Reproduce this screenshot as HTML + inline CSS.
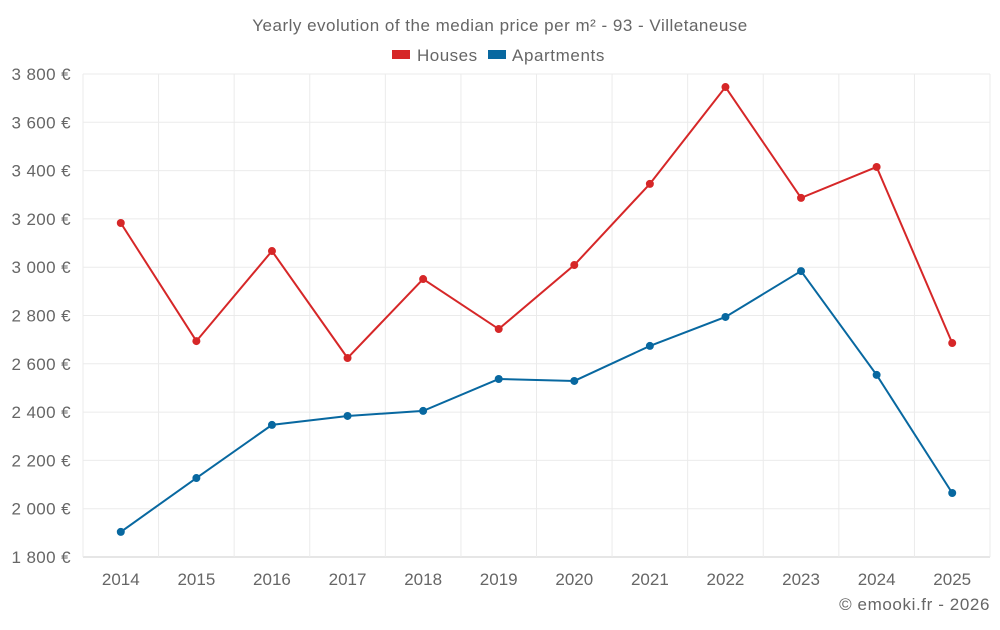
<!DOCTYPE html>
<html><head><meta charset="utf-8"><style>
body{margin:0;background:#fff;font-family:"Liberation Sans",sans-serif;}
svg text{font-family:"Liberation Sans",sans-serif;fill:#666;}
</style></head><body>
<svg id="chart" width="1000" height="625">
<text x="500" y="31" text-anchor="middle" font-size="17" letter-spacing="0.5">Yearly evolution of the median price per m² - 93 - Villetaneuse</text>
<g>
<g><rect x="392" y="50" width="18" height="9" fill="#d62728"/><text x="417" y="61" font-size="17" letter-spacing="0.5">Houses</text></g>
<g><rect x="488" y="50" width="18" height="9" fill="#0868a0"/><text x="512" y="61" font-size="17" letter-spacing="0.6">Apartments</text></g>
</g>
<g id="grid"></g><g id="axes"></g><g id="series"></g>
<text x="990" y="610" text-anchor="end" font-size="17" letter-spacing="0.6">© emooki.fr - 2026</text>
</svg>
<script>
const years=[2014,2015,2016,2017,2018,2019,2020,2021,2022,2023,2024,2025];
const houses=[3183,2694,3067,2624,2951,2744,3009,3345,3746,3287,3415,2686];
const apartments=[1904,2127,2347,2384,2405,2537,2529,2674,2794,2984,2554,2065];
const yTicks=[1800,2000,2200,2400,2600,2800,3000,3200,3400,3600,3800];
const L=83,R=990,T=74,B=557,ymin=1800,ymax=3800;
const NS="http://www.w3.org/2000/svg";
const step=(R-L)/years.length;
const x=i=>L+step*(i+0.5);
const y=v=>B-(v-ymin)/(ymax-ymin)*(B-T);
function mk(t,a,p){const e=document.createElementNS(NS,t);for(const k in a)e.setAttribute(k,a[k]);p.appendChild(e);return e;}
const grid=document.getElementById('grid'),axes=document.getElementById('axes'),ser=document.getElementById('series');
yTicks.forEach(v=>{
const l=mk('line',{x1:L,x2:R,y1:y(v),y2:y(v),stroke:v===ymin?'#ccc':'#ebebeb'},grid);


const t=mk('text',{x:71,y:y(v)+6,'text-anchor':'end','font-size':17,'letter-spacing':0.4},axes);
t.textContent=String(v).replace(/\B(?=(\d{3})+$)/,' ')+' €';


});
for(let i=0;i<=years.length;i++){
const l=mk('line',{x1:L+step*i,x2:L+step*i,y1:T,y2:B,stroke:'#ebebeb'},grid);


}
years.forEach((yr,i)=>{
const t=mk('text',{x:x(i),y:585,'text-anchor':'middle','font-size':17},axes);
t.textContent=yr;


});
[[houses,'#d62728','houses'],[apartments,'#0868a0','apartments']].forEach(([d,c,n])=>{
const p=mk('polyline',{points:d.map((v,i)=>x(i)+','+y(v)).join(' '),fill:'none',stroke:c,'stroke-width':2},ser);


d.forEach((v,i)=>{
const ci=mk('circle',{cx:x(i),cy:y(v),r:4,fill:c},ser);


});
});
</script>
</body></html>
